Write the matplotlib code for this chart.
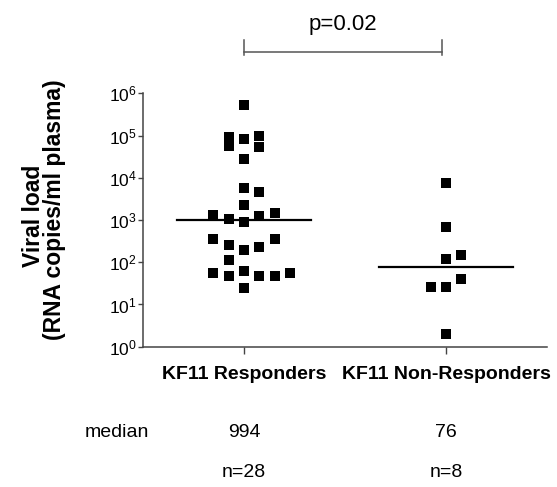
import matplotlib
matplotlib.use("Agg")
import matplotlib.pyplot as plt
import matplotlib.transforms as mtransforms
import numpy as np

plt.rcParams['font.family'] = ['Liberation Sans', 'DejaVu Sans']
plt.rcParams['mathtext.fontset'] = 'custom'
plt.rcParams['mathtext.rm'] = 'Liberation Sans'

# ---- data ----
categories = ["KF11 Responders", "KF11 Non-Responders"]
responders = [5.3e5, 9.4e4, 5.7e4, 8.3e4, 1.0e5, 5.3e4, 2.8e4,
              5.8e3, 4.6e3, 2.3e3, 1.3e3, 1.5e3, 1.04e3, 910, 1.24e3,
              350, 350, 255, 195, 235, 113,
              55, 48, 62, 48, 48, 55, 24]
responders_col = [0, -1, -1, 0, 1, 1, 0,
                  0, 1, 0, -2, 2, -1, 0, 1,
                  -2, 2, -1, 0, 1, -1,
                  -2, -1, 0, 1, 2, 3, 0]
nonresponders = [7.6e3, 670, 148, 117, 40, 25.5, 25.5, 2.0]
nonresponders_col = [0, 0, 1, 0, 1, -1, 0, 0]
medians = [994, 76]
median_labels = ["994", "76"]
n_labels = ["n=28", "n=8"]
p_label = "p=0.02"
ytick_vals = [1e0, 1e1, 1e2, 1e3, 1e4, 1e5, 1e6]
ytick_labels = [r"$\mathregular{10^{%d}}$" % k for k in range(7)]

# ---- figure ----
W, H = 557, 487
fig = plt.figure(figsize=(W / 100, H / 100), dpi=100)
ax = fig.add_axes([143 / W, 1 - 346.7 / H, (547 - 143) / W, (346.7 - 93.3) / H])

step = 0.076
spine_c = '#444444'
for i, (vals, cols) in enumerate([(responders, responders_col),
                                  (nonresponders, nonresponders_col)]):
    xs = i + step * np.array(cols)
    ax.scatter(xs, vals, marker='s', s=50, color='black', linewidths=0, zorder=3)
    ax.plot([i - 0.33, i + 0.33], [medians[i], medians[i]], color='black', lw=1.6, zorder=4)

ax.set_yscale('log')
ax.set_ylim(1, 1e6)
ax.set_xlim(-0.5, 1.5)
ax.set_yticks(ytick_vals)
ax.set_yticklabels(ytick_labels, fontsize=12.5)
ax.yaxis.set_minor_locator(matplotlib.ticker.NullLocator())
ax.set_xticks([0, 1])
ax.set_xticklabels(categories, fontsize=14, fontweight='bold')
ax.tick_params(axis='y', length=3.5, width=1, color=spine_c, pad=1)
ax.tick_params(axis='x', length=5, width=1, color=spine_c, pad=9)
for s in ['top', 'right']:
    ax.spines[s].set_visible(False)
for s in ['left', 'bottom']:
    ax.spines[s].set_color(spine_c)
    ax.spines[s].set_linewidth(1.1)

# y label
fig.text(33 / W, 1 - 216 / H, "Viral load", rotation=90, ha='center', va='center',
         fontsize=16.5, fontweight='bold')
fig.text(55 / W, 1 - 210 / H, "(RNA copies/ml plasma)", rotation=90, ha='center', va='center',
         fontsize=16.5, fontweight='bold')

# significance bracket
trans = mtransforms.blended_transform_factory(ax.transData, fig.transFigure)
yb = 1 - 51.7 / H
ycap_top = 1 - 40 / H
ycap_bot = 1 - 55 / H
xb0, xb1 = 0, 0.98
br_c = '#555555'
ax.plot([xb0, xb1], [yb, yb], transform=trans, color=br_c, lw=1.1, clip_on=False)
ax.plot([xb0, xb0], [ycap_bot, ycap_top], transform=trans, color=br_c, lw=1.1, clip_on=False)
ax.plot([xb1, xb1], [ycap_bot, ycap_top], transform=trans, color=br_c, lw=1.1, clip_on=False)
ax.text((xb0 + xb1) / 2, 1 - 30 / H, p_label, transform=trans, ha='center', va='baseline',
        fontsize=16)

# bottom annotations
fig.text(85 / W, 1 - 437 / H, "median", ha='left', va='baseline', fontsize=14)
for i in range(2):
    ax.text(i, 1 - 437 / H, median_labels[i], transform=trans, ha='center', va='baseline', fontsize=14)
    ax.text(i, 1 - 477 / H, n_labels[i], transform=trans, ha='center', va='baseline', fontsize=14)

fig.savefig("out.png", dpi=100)
